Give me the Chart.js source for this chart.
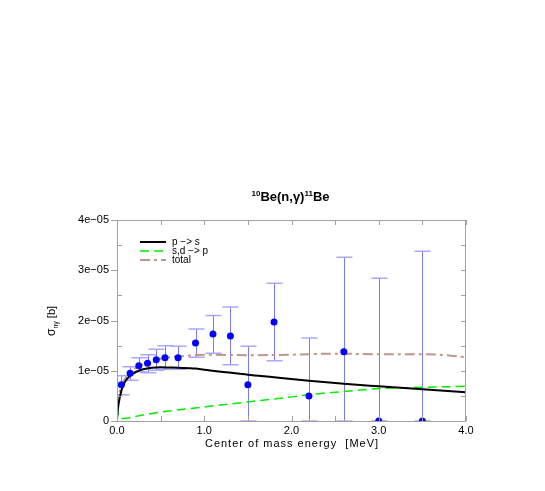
<!DOCTYPE html>
<html>
<head>
<meta charset="utf-8">
<script src="https://cdn.jsdelivr.net/npm/chart.js@4.4.0/dist/chart.umd.min.js"></script>
<style>
html,body{margin:0;padding:0;background:#fff;}
#wrap{width:545px;height:491px;}
</style>
</head>
<body>
<div id="wrap"><canvas id="c" width="545" height="491"></canvas></div>
<script>
// ---- data ----
const energies   = [0.05, 0.15, 0.25, 0.35, 0.45, 0.55, 0.70, 0.90, 1.10, 1.30, 1.50, 1.80, 2.20, 2.60, 3.00, 3.50];
const sigma      = [7.2e-6, 9.5e-6, 1.10e-5, 1.15e-5, 1.22e-5, 1.26e-5, 1.26e-5, 1.55e-5, 1.73e-5, 1.69e-5, 7.2e-6, 1.97e-5, 5.0e-6, 1.38e-5, 0, 0];
const sigmaHigh  = [9.0e-6, 1.08e-5, 1.26e-5, 1.32e-5, 1.43e-5, 1.50e-5, 1.49e-5, 1.83e-5, 2.10e-5, 2.27e-5, 1.49e-5, 2.74e-5, 1.65e-5, 3.26e-5, 2.84e-5, 3.38e-5];
const sigmaLow   = [5.2e-6, 8.1e-6, 9.8e-6, 9.6e-6, 1.01e-5, 1.03e-5, 1.03e-5, 1.27e-5, 1.35e-5, 1.12e-5, 0, 1.20e-5, 0, 0, 0, 0];

const psX = [0, 0.005, 0.015, 0.03, 0.05, 0.075, 0.1, 0.15, 0.2, 0.25, 0.3, 0.4, 0.5, 0.6, 0.7, 0.9, 1.0, 1.25, 1.5, 1.8, 2.2, 2.6, 3.0, 3.5, 4.0];
const psY = [0, 1.5e-6, 3.0e-6, 4.5e-6, 6.0e-6, 7.2e-6, 8.0e-6, 9.0e-6, 9.6e-6, 1.0e-5, 1.03e-5, 1.06e-5, 1.07e-5, 1.065e-5, 1.06e-5, 1.045e-5, 1.02e-5, 9.7e-6, 9.2e-6, 8.7e-6, 8.0e-6, 7.4e-6, 6.9e-6, 6.3e-6, 5.7e-6];

const sdX = [0, 0.01, 0.02, 0.04, 0.06, 0.1, 0.3, 0.6, 1.0, 1.5, 2.0, 2.2, 2.55, 3.0, 3.5, 4.0];
const sdY = [3.0e-6, 1.8e-6, 1.0e-6, 6e-7, 5e-7, 5.5e-7, 1.2e-6, 2.0e-6, 2.8e-6, 3.8e-6, 4.8e-6, 5.25e-6, 5.8e-6, 6.45e-6, 6.7e-6, 6.9e-6];

const totX = [0, 0.01, 0.03, 0.05, 0.1, 0.15, 0.2, 0.3, 0.4, 0.5, 0.6, 0.8, 1.0, 1.5, 2.0, 2.5, 3.0, 3.5, 3.7, 4.0];
const totY = [3.0e-6, 4.2e-6, 5.8e-6, 6.8e-6, 8.6e-6, 9.7e-6, 1.04e-5, 1.13e-5, 1.2e-5, 1.24e-5, 1.27e-5, 1.30e-5, 1.32e-5, 1.31e-5, 1.32e-5, 1.34e-5, 1.33e-5, 1.33e-5, 1.32e-5, 1.27e-5];

const xTickLabels = ['0.0', '1.0', '2.0', '3.0', '4.0'];
const yTickLabels = ['0', '1e\u221205', '2e\u221205', '3e\u221205', '4e\u221205'];
const seriesNames = ['p \u2212> s', 's,d \u2212> p', 'total'];

const FONT = '"Liberation Sans", Arial, Helvetica, sans-serif';

function pts(xs, ys){ return xs.map((x,i)=>({x:x, y:ys[i]})); }

const decor = {
  id: 'decor',
  beforeDatasetsDraw(chart){
    const {ctx, chartArea:a, scales:{x, y}} = chart;
    ctx.save();
    ctx.beginPath(); ctx.rect(a.left, a.top-1, a.right-a.left, a.bottom-a.top+2); ctx.clip();
    for (let i=0;i<energies.length;i++){
      const px = Math.round(x.getPixelForValue(energies[i]))+0.5;
      const ph = y.getPixelForValue(sigmaHigh[i]);
      const pl = y.getPixelForValue(sigmaLow[i]);
      ctx.strokeStyle = '#7a7aff'; ctx.lineWidth = 1;
      ctx.beginPath(); ctx.moveTo(px, ph); ctx.lineTo(px, pl); ctx.stroke();
      ctx.strokeStyle = '#a8a8ff'; ctx.lineWidth = 1.5;
      ctx.beginPath(); ctx.moveTo(px-8, ph); ctx.lineTo(px+8, ph);
      ctx.moveTo(px-8, pl); ctx.lineTo(px+8, pl); ctx.stroke();
    }
    ctx.restore();
  },
  afterDraw(chart){
    const {ctx, chartArea:a, scales:{x, y}} = chart;
    ctx.save();
    // frame
    ctx.strokeStyle = '#a0a0a0'; ctx.lineWidth = 1;
    ctx.strokeRect(a.left+0.5, a.top+0.5, a.right-a.left-1, a.bottom-a.top);
    // ticks
    ctx.beginPath();
    for (let v=0; v<=4.0001; v+=0.5){
      const px = Math.round(x.getPixelForValue(v))+0.5;
      ctx.moveTo(px, a.bottom); ctx.lineTo(px, a.bottom-5);
      ctx.moveTo(px, a.top); ctx.lineTo(px, a.top+5);
    }
    for (let k=0; k<=8; k++){
      const v = k*0.5e-5;
      const py = Math.round(y.getPixelForValue(v))+0.5;
      if (k%2===0){ ctx.moveTo(a.left, py); ctx.lineTo(a.left-6, py); }
      else { ctx.moveTo(a.left, py); ctx.lineTo(a.left+5, py); }
      ctx.moveTo(a.right, py); ctx.lineTo(a.right-5, py);
    }
    ctx.stroke();

    ctx.fillStyle = '#000';
    // title
    const cx = (a.left + a.right)/2;
    const parts = [['10', 'bold 8px '+FONT, -5], ['Be(n,\u03b3)', 'bold 13px '+FONT, 0], ['11', 'bold 8px '+FONT, -5], ['Be', 'bold 13px '+FONT, 0]];
    let tw = 0;
    parts.forEach(p=>{ ctx.font = p[1]; tw += ctx.measureText(p[0]).width; });
    let tx = cx - tw/2 - 1;
    ctx.textBaseline = 'alphabetic'; ctx.textAlign = 'left';
    parts.forEach(p=>{ ctx.font = p[1]; ctx.fillText(p[0], tx, 201 + p[2]); tx += ctx.measureText(p[0]).width; });

    // x label
    ctx.font = '11px '+FONT;
    ctx.letterSpacing = '1px';
    ctx.textAlign = 'center';
    ctx.fillText('Center of mass energy  [MeV]', 292, 447);
    ctx.letterSpacing = '0px';

    // y label
    ctx.save();
    ctx.translate(55, 336);
    ctx.rotate(-Math.PI/2);
    ctx.textAlign = 'left';
    ctx.font = '12px '+FONT;
    ctx.fillText('\u03c3', 0, 0);
    let w = ctx.measureText('\u03c3').width;
    ctx.font = '7px '+FONT;
    ctx.fillText('n\u03b3', w, 3);
    w += ctx.measureText('n\u03b3').width;
    ctx.font = '11px '+FONT;
    ctx.fillText(' [b]', w, 0);
    ctx.restore();

    // legend
    const rows = [242, 251, 260];
    const ds = chart.data.datasets;
    [1,2,3].forEach((di, r)=>{
      const d = ds[di];
      ctx.strokeStyle = d.borderColor; ctx.lineWidth = d.borderWidth;
      ctx.setLineDash(d.borderDash || []);
      ctx.beginPath(); ctx.moveTo(140, rows[r]); ctx.lineTo(166, rows[r]); ctx.stroke();
      ctx.setLineDash([]);
      ctx.font = '10px '+FONT; ctx.textAlign = 'left'; ctx.textBaseline = 'middle';
      ctx.fillText(seriesNames[r], 172, rows[r]);
    });
    ctx.restore();
  }
};

new Chart(document.getElementById('c'), {
  type: 'scatter',
  data: {
    datasets: [
      { label: 'data', data: pts(energies, sigma), backgroundColor: '#0000ff', borderColor: '#0000ff',
        pointRadius: 3.5, pointBorderWidth: 0, showLine: false, order: 0 },
      { label: seriesNames[0], data: pts(psX, psY), showLine: true, borderColor: '#000000', borderWidth: 2,
        pointRadius: 0, cubicInterpolationMode: 'monotone', order: 1 },
      { label: seriesNames[1], data: pts(sdX, sdY), showLine: true, borderColor: '#00ee00', borderWidth: 1.5,
        borderDash: [9, 5], pointRadius: 0, cubicInterpolationMode: 'monotone', order: 2 },
      { label: seriesNames[2], data: pts(totX, totY), showLine: true, borderColor: '#bf9590', borderWidth: 2,
        borderDash: [10, 4, 3, 4], pointRadius: 0, cubicInterpolationMode: 'monotone', order: 3 }
    ]
  },
  options: {
    responsive: false,
    animation: false,
    layout: { padding: { top: 220, right: 79, left: 0, bottom: 0 } },
    plugins: { legend: { display: false }, tooltip: { enabled: false }, title: { display: false } },
    scales: {
      x: {
        type: 'linear', min: 0, max: 4, position: 'bottom',
        grid: { display: false, drawTicks: false }, border: { display: false },
        ticks: { stepSize: 1, padding: 3, color: '#000', font: { size: 11, family: FONT },
                 callback: (v, i) => xTickLabels[i] },
        afterFit: s => { s.height = 70; }
      },
      y: {
        type: 'linear', min: 0, max: 4e-5, position: 'left',
        grid: { display: false, drawTicks: false }, border: { display: false },
        ticks: { stepSize: 1e-5, padding: 8, color: '#000', font: { size: 11, family: FONT },
                 callback: (v, i) => yTickLabels[i] },
        afterFit: s => { s.width = 117; }
      }
    }
  },
  plugins: [decor]
});
</script>
</body>
</html>
